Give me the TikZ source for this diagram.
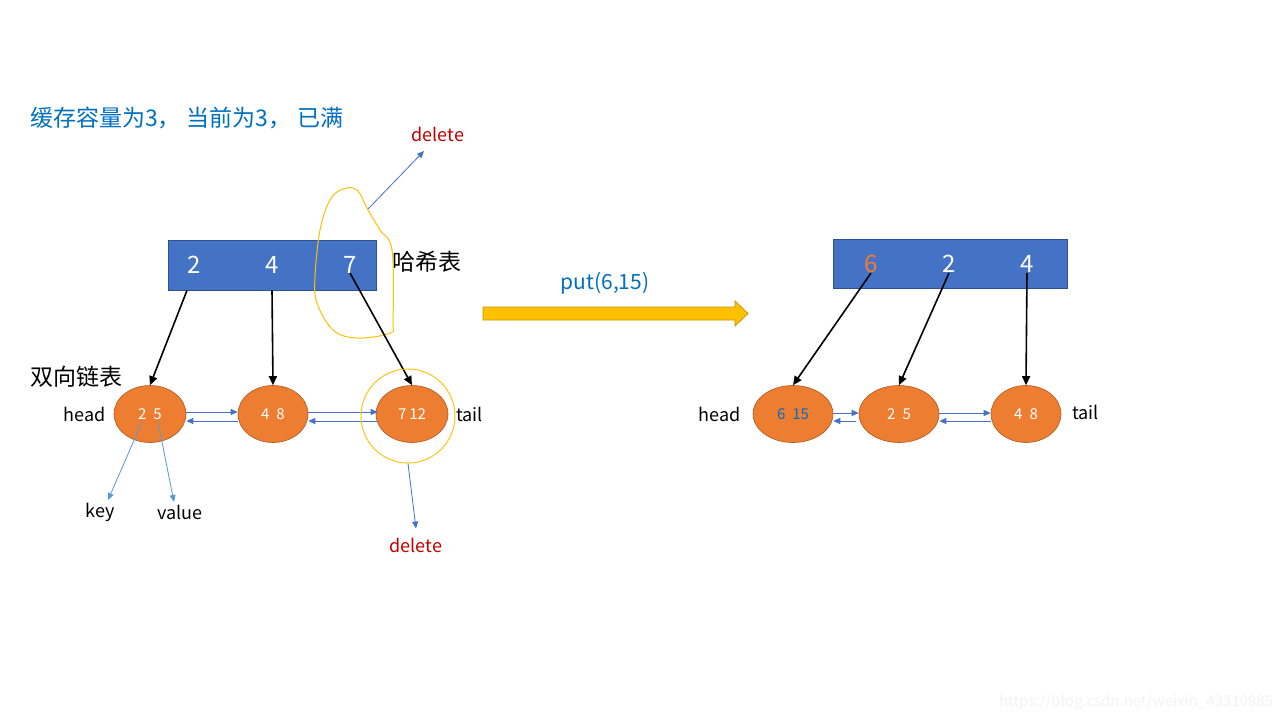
\documentclass[tikz,border=0pt]{standalone}
\usepackage{fontspec}
\setmainfont{Noto Sans CJK SC}
\usetikzlibrary{arrows.meta,shapes.geometric}
\definecolor{tblue}{RGB}{0,112,192}
\definecolor{hblue}{RGB}{68,114,196}
\definecolor{hborder}{RGB}{47,82,143}
\definecolor{orng}{RGB}{237,125,49}
\definecolor{oborder}{RGB}{174,90,33}
\definecolor{dred}{RGB}{192,0,0}
\definecolor{gold}{RGB}{255,192,0}
\definecolor{darkgold}{RGB}{200,150,0}
\definecolor{lblue}{RGB}{91,155,213}
\definecolor{wmark}{RGB}{243,243,243}
\tikzset{
  txt/.style={inner sep=0pt,font=\fontsize{18}{22}\selectfont},
  big/.style={inner sep=0pt,font=\fontsize{23}{27}\selectfont},
  hash/.style={rectangle,fill=hblue,draw=hborder,line width=0.8pt,inner sep=0pt,minimum height=50pt},
  key/.style={inner sep=0pt,text=white,font=\fontsize{24}{28}\selectfont},
  ell/.style={ellipse,fill=orng,draw=oborder,line width=0.6pt,inner sep=0pt,minimum height=57pt,text=white,font=\fontsize{15}{17}\selectfont},
  ptr/.style={line width=1.6pt,-{Triangle[length=9pt,width=8pt]}},
  link/.style={hblue,line width=0.9pt,-{Triangle[length=7pt,width=6pt]}},
  lnote/.style={lblue,line width=0.8pt,-{Triangle[length=7pt,width=6pt]}},
  bnote/.style={hblue,line width=0.8pt,-{Triangle[length=7pt,width=6pt]}},
}
\newcommand{\gapA}{\hspace{7pt}}
\begin{document}
\begin{tikzpicture}[x=1pt,y=-1pt]
\useasboundingbox[fill=white] (0,0) rectangle (1280,720);

% title
\node[inner sep=0pt,anchor=west,text=tblue,font=\fontsize{23}{27}\selectfont] (title) at (30,118) {缓存容量为3，\hspace{6pt}当前为3，\hspace{6pt}已满};

% left hash table
\node[hash,minimum width=208pt] (ht1) at (272,265) {};
\node[key] (k2) at (194,265) {2};
\node[key] (k4) at (272,265) {4};
\node[key] (k7) at (350,265) {7};
\node[big,anchor=west] (hashlbl) at (392,262) {哈希表};

% yellow freehand loop
\draw[gold,line width=1pt] plot[smooth cycle,tension=0.6] coordinates {
 (343,189) (330,200) (320,230) (315,277) (317,303) (333,330) (357,338)
 (390,333) (393,320) (392,250) (380,230) (368,210) (357,190)};
\coordinate (loopa) at (368,209);
\node[txt,text=dred] (del1) at (438,134) {delete};
\draw[bnote] (loopa) -- (424,151);

% left list
\node[big,anchor=west] (dll) at (30,377) {双向链表};
\node[ell,minimum width=72pt] (n1) at (150,414) {2\gapA5};
\node[ell,minimum width=70pt] (n2) at (273,414) {4\gapA8};
\node[ell,minimum width=72pt] (n3) at (412,414) {7\hspace{3pt}12};
\node[txt,anchor=east] (head1) at (106,414) {head};
\node[txt,anchor=west] (tail1) at (456,414) {tail};

\draw[ptr] ([xshift=-85pt]ht1.south) -- (n1.north);
\draw[ptr] (ht1.south) -- (n2.north);
\draw[ptr] ([yshift=-8pt]k7.center) -- (n3.north);

\draw[link] ([yshift=2pt]n1.east) -- ([yshift=2pt]n2.west);
\draw[link] ([yshift=-7pt]n2.west) -- ([yshift=-7pt]n1.east);
\draw[link] ([yshift=2pt]n2.east) -- ([yshift=2pt,xshift=2pt]n3.west);
\draw[link] ([yshift=-7pt,xshift=2pt]n3.west) -- ([yshift=-7pt]n2.east);

\node[circle,draw=gold,line width=0.9pt,minimum size=94pt,inner sep=0pt] (ring) at (408,416) {};
\node[txt,text=dred] (del2) at (416,545) {delete};
\draw[bnote] (ring.south) -- ([yshift=9pt]del2.north);

\node[txt] (keylbl) at (100,512) {key};
\node[txt] (vallbl) at (180,512) {value};
\coordinate (kstart) at (142,422);
\coordinate (vstart) at (158,422);
\draw[lnote] (kstart) -- (108,500);
\draw[lnote] (vstart) -- (174,502);

% big yellow arrow
\draw[fill=gold,draw=darkgold,line width=0.8pt] (483,307) -- (735,307) -- (735,301) -- (748,313.5) -- (735,326) -- (735,320) -- (483,320) -- cycle;
\node[inner sep=0pt,text=tblue,font=\fontsize{21}{25}\selectfont] (put) at (605,283) {put(6,15)};

% right hash table
\node[hash,minimum width=234pt,minimum height=49pt] (ht2) at (950,263.5) {};
\node[key,text=orng] (r6) at (871,264) {6};
\node[key] (r2) at (949,264) {2};
\node[key] (r4) at (1027,264) {4};

% right list
\node[ell,minimum width=80pt,text=tblue] (m1) at (793,414) {6\gapA15};
\node[ell,minimum width=80pt] (m2) at (899,414) {2\gapA5};
\node[ell,minimum width=70pt] (m3) at (1026,414) {4\gapA8};
\node[txt,anchor=east] (head2) at (741,414) {head};
\node[txt,anchor=west] (tail2) at (1072,412) {tail};

\draw[ptr] ([yshift=-9pt]r6.center) -- (m1.north);
\draw[ptr] ([yshift=-9pt]r2.center) -- (m2.north);
\draw[ptr] ([yshift=-9pt]r4.center) -- (m3.north);

\draw[link] ([yshift=1pt]m1.east) -- ([yshift=1pt]m2.west);
\draw[link] ([yshift=-7pt,xshift=-3pt]m2.west) -- ([yshift=-7pt]m1.east);
\draw[link] ([yshift=1pt]m2.east) -- ([yshift=1pt]m3.west);
\draw[link] ([yshift=-7pt]m3.west) -- ([yshift=-7pt]m2.east);

% watermark
\node[inner sep=0pt,text=wmark,font=\fontsize{15}{18}\selectfont] (wm) at (1136,702) {https://blog.csdn.net/weixin\_43310985};
\end{tikzpicture}
\end{document}
